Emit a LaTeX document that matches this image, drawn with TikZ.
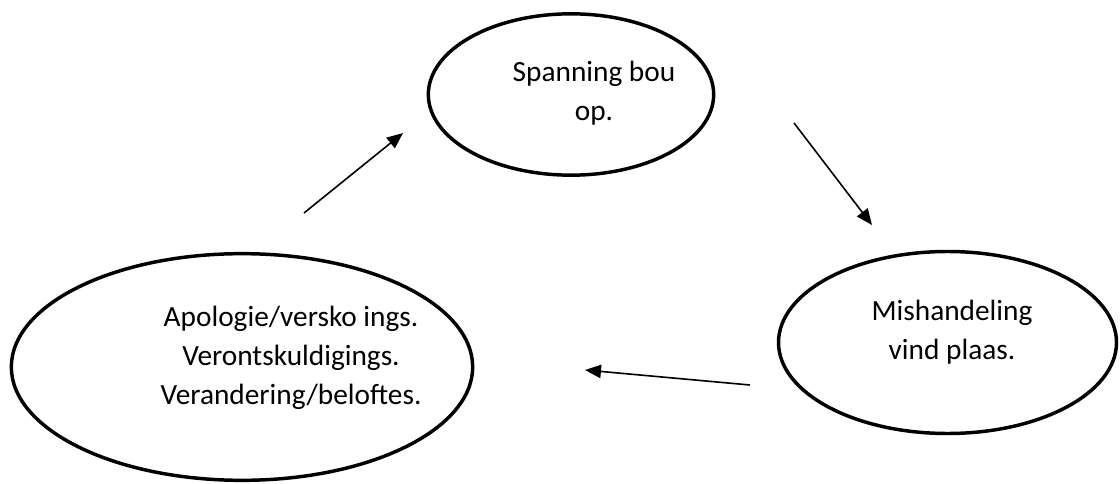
\documentclass[tikz,border=0pt]{standalone}
\usepackage{fontspec}
\setmainfont{Carlito}
\usetikzlibrary{shapes,positioning,arrows.meta}
\tikzset{
  ellips/.style={ellipse, draw, line width=2.6pt, inner sep=0pt},
  stap/.style={align=center, font=\fontsize{22}{29.5}\selectfont},
  pyl/.style={-{Triangle[length=12pt,width=10pt]}, line width=1.2pt}
}
\begin{document}
\begin{tikzpicture}[x=0.75pt,y=-0.75pt]
        \useasboundingbox (0,0) rectangle (1120,484);
        \node[ellips, minimum width=214pt, minimum height=121pt] (opbou) at (571,94.5) {};
        \node[ellips, minimum width=253.5pt, minimum height=136.5pt] (mishandel) at (947.5,342.5) {};
        \node[ellips, minimum width=346pt, minimum height=170pt] (apologie) at (242,367) {};
        \node[stap] (opbouteks) at (594,93) {Spanning bou\\ op.};
        \node[stap] (mishandelteks) at (952,332) {Mishandeling\\ vind plaas.};
        \node[stap] (apologieteks) at (291,358) {Apologie/versko ings.\\ Verontskuldigings.\\ Verandering/beloftes.};
        \coordinate (p1) at (304,213);
        \coordinate (q1) at (403,133);
        \coordinate (p2) at (794,123);
        \coordinate (q2) at (872,225);
        \coordinate (p3) at (750,385);
        \coordinate (q3) at (585,370);
        \draw [pyl] (p1) -- (q1);
        \draw [pyl] (p2) -- (q2);
        \draw [pyl] (p3) -- (q3);
    \end{tikzpicture}
\end{document}
